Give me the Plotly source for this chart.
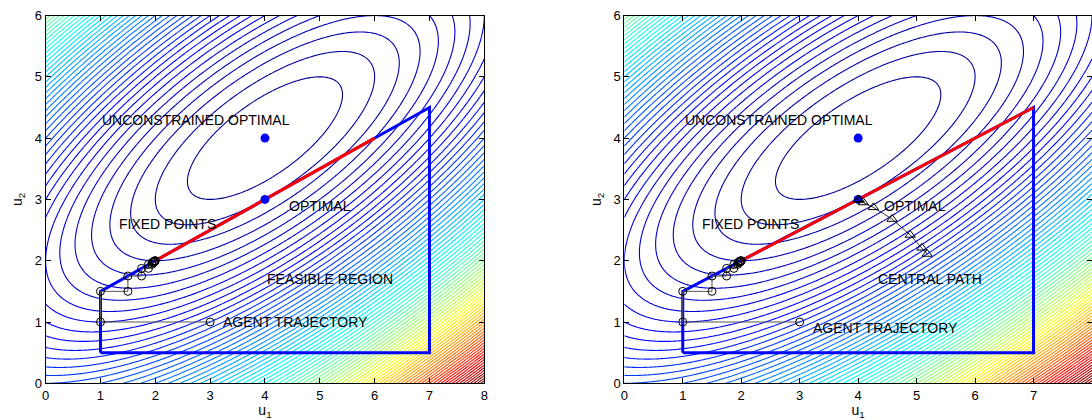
import numpy as np
import plotly.graph_objects as go

# ---- data ----
center = [4.0, 4.0]
Q = [[0.5, -0.5], [-0.5, 1.0]]
level_start, level_end, level_step = 0.5, 39.5, 0.5

feas_u1 = [1, 7, 7, 1, 1]
feas_u2 = [0.5, 0.5, 4.5, 1.5, 0.5]

fixed_left_u1 = [2, 6]
fixed_left_u2 = [2, 4]
fixed_right_u1 = [2, 7]
fixed_right_u2 = [2, 4.5]

agent_u1 = [3, 1, 1, 1.5, 1.5, 1.75, 1.75, 1.875, 1.875, 1.94, 1.94, 1.97, 1.97, 1.984, 1.984, 1.992, 1.992, 2.0]
agent_u2 = [1, 1, 1.5, 1.5, 1.75, 1.75, 1.875, 1.875, 1.94, 1.94, 1.97, 1.97, 1.984, 1.984, 1.992, 1.992, 2.0, 2.0]

opt_u1 = [4, 4]
opt_u2 = [4, 3]

central_u1 = [5.18, 5.09, 4.89, 4.58, 4.26, 4.09, 4.02, 4.0]
central_u2 = [2.11, 2.21, 2.42, 2.68, 2.87, 2.95, 2.99, 3.0]

labels_left = [("UNCONSTRAINED OPTIMAL", 1.0, 4.3), ("OPTIMAL", 4.4, 2.9),
               ("FIXED POINTS", 1.3, 2.6), ("FEASIBLE REGION", 4.0, 1.7),
               ("AGENT TRAJECTORY", 3.2, 1.0)]
labels_right = [("UNCONSTRAINED OPTIMAL", 1.0, 4.3), ("OPTIMAL", 4.4, 2.9),
                ("FIXED POINTS", 1.3, 2.6), ("CENTRAL PATH", 4.3, 1.7),
                ("AGENT TRAJECTORY", 3.2, 0.9)]

x_ticks = [0, 1, 2, 3, 4, 5, 6, 7, 8]
y_ticks = [0, 1, 2, 3, 4, 5, 6]

# ---- surface ----
gx = np.linspace(0, 8, 321)
gy = np.linspace(0, 6, 241)
X, Y = np.meshgrid(gx, gy)
dx, dy = X - center[0], Y - center[1]
Z = Q[0][0] * dx**2 + 2 * Q[0][1] * dx * dy + Q[1][1] * dy**2

jet = [[0, 'rgb(0,0,143)'], [0.125, 'rgb(0,0,255)'], [0.375, 'rgb(0,255,255)'],
       [0.625, 'rgb(255,255,0)'], [0.875, 'rgb(255,0,0)'], [1, 'rgb(128,0,0)']]

FONT = "Liberation Sans, Arial, Helvetica, sans-serif"
fig = go.Figure()

for k, (xa, ya) in enumerate([("x", "y"), ("x2", "y2")]):
    fig.add_trace(go.Contour(
        x=gx, y=gy, z=Z, xaxis=xa, yaxis=ya,
        contours=dict(coloring="lines", start=level_start, end=level_end, size=level_step),
        colorscale=jet, zmin=0, zmax=float(Z.max()), showscale=False,
        line=dict(width=1.1), hoverinfo="skip"))
    fig.add_trace(go.Scatter(x=feas_u1, y=feas_u2, xaxis=xa, yaxis=ya, mode="lines",
                             line=dict(color="rgb(0,0,255)", width=3), showlegend=False))
    fu1 = fixed_left_u1 if k == 0 else fixed_right_u1
    fu2 = fixed_left_u2 if k == 0 else fixed_right_u2
    fig.add_trace(go.Scatter(x=fu1, y=fu2, xaxis=xa, yaxis=ya, mode="lines",
                             line=dict(color="rgb(255,0,0)", width=3), showlegend=False))
    fig.add_trace(go.Scatter(x=agent_u1, y=agent_u2, xaxis=xa, yaxis=ya, mode="lines+markers",
                             line=dict(color="#555555", width=1),
                             marker=dict(symbol="circle-open", size=8, color="black", line=dict(width=1)),
                             showlegend=False))
    fig.add_trace(go.Scatter(x=opt_u1, y=opt_u2, xaxis=xa, yaxis=ya, mode="markers",
                             marker=dict(symbol="circle", size=9, color="rgb(0,0,255)"),
                             showlegend=False))
    if k == 1:
        fig.add_trace(go.Scatter(x=central_u1, y=central_u2, xaxis=xa, yaxis=ya, mode="lines+markers",
                                 line=dict(color="black", width=0.8),
                                 marker=dict(symbol="triangle-up-open", size=9, color="black", line=dict(width=1)),
                                 showlegend=False))
    for (t, tx, ty) in (labels_left if k == 0 else labels_right):
        fig.add_annotation(x=tx, y=ty, xref=xa, yref=ya, text=t, showarrow=False,
                           xanchor="left", yanchor="middle",
                           font=dict(family=FONT, size=14, color="black"))

axis_common = dict(showline=True, linecolor="black", linewidth=1, mirror="ticks",
                   ticks="inside", ticklen=5, tickcolor="black", showgrid=False, zeroline=False,
                   automargin=False,
                   tickfont=dict(family=FONT, size=13, color="black"))
title_font = dict(family=FONT, size=14, color="black")

fig.update_layout(
    width=1092, height=420, margin=dict(l=0, r=0, t=0, b=0),
    paper_bgcolor="white", plot_bgcolor="white", showlegend=False,
    xaxis=dict(domain=[0.0418, 0.4435], range=[0, 8], tickvals=x_ticks, anchor="y",
               title=dict(text="u<sub>1</sub>", font=title_font, standoff=2), **axis_common),
    yaxis=dict(domain=[0.0874, 0.963], range=[0, 6], tickvals=y_ticks, anchor="x",
               title=dict(text="u<sub>2</sub>", font=title_font, standoff=8), **axis_common),
    xaxis2=dict(domain=[0.5717, 1.0], range=[0, 8], tickvals=x_ticks, anchor="y2",
                title=dict(text="u<sub>1</sub>", font=title_font, standoff=2), **axis_common),
    yaxis2=dict(domain=[0.0874, 0.963], range=[0, 6], tickvals=y_ticks, anchor="x2",
                title=dict(text="u<sub>2</sub>", font=title_font, standoff=8), **axis_common),
)

fig.write_html("out.html")
